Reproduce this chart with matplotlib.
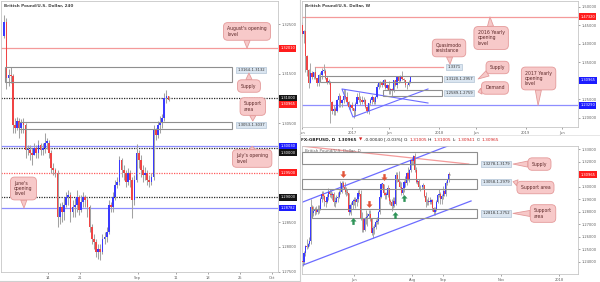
import numpy as np
import matplotlib
matplotlib.use("Agg")
import matplotlib.pyplot as plt
from matplotlib.patches import Rectangle
from matplotlib.path import Path

plt.rcParams['font.family'] = ['DejaVu Sans']

W, H = 600, 282

# ---------------- DATA ----------------
# Panel 1: GBP/USD 4H chart (drawn as 8-hour candles), x = trading-day index, 3 Aug 2017 = 0
h4_first_open = 1.3225
h4_close = [1.3255, 1.3140, 1.3148, 1.3145, 1.3045, 1.3040, 1.3055, 1.3040, 1.3050,
            1.3045, 1.2995, 1.2995, 1.2990, 1.2985, 1.3000, 1.2990, 1.3005, 1.2995,
            1.3000, 1.3010, 1.3010, 1.2990, 1.2960, 1.2955, 1.2950, 1.2860, 1.2880,
            1.2870, 1.2885, 1.2900, 1.2905, 1.2870, 1.2880, 1.2885, 1.2900, 1.2875,
            1.2890, 1.2900, 1.2895, 1.2880, 1.2840, 1.2815, 1.2810, 1.2790, 1.2795,
            1.2790, 1.2815, 1.2820, 1.2830, 1.2885, 1.2880, 1.2900, 1.2925, 1.2930,
            1.2975, 1.2955, 1.2950, 1.2930, 1.2948, 1.2935, 1.2895, 1.2935, 1.2990,
            1.2975, 1.2955, 1.2945, 1.2950, 1.2935, 1.2930, 1.2940, 1.3035, 1.3025,
            1.3045, 1.3050, 1.3060, 1.3100, 1.3105, 1.30965]
h4_high = [1.3268, 1.3262, 1.3160, 1.3163, 1.3150, 1.3060, 1.3062, 1.3060, 1.3058,
           1.3060, 1.3050, 1.3005, 1.3005, 1.3000, 1.3010, 1.3005, 1.3015, 1.3010,
           1.3010, 1.3030, 1.3020, 1.3015, 1.2995, 1.2970, 1.2960, 1.2955, 1.2888,
           1.2890, 1.2900, 1.2910, 1.2915, 1.2910, 1.2895, 1.2898, 1.2915, 1.2905,
           1.2905, 1.2910, 1.2905, 1.2900, 1.2885, 1.2845, 1.2825, 1.2815, 1.2805,
           1.2805, 1.2825, 1.2830, 1.2840, 1.2895, 1.2890, 1.2910, 1.2935, 1.2940,
           1.2983, 1.2980, 1.2965, 1.2955, 1.2960, 1.2955, 1.2940, 1.2945, 1.3008,
           1.2995, 1.2985, 1.2965, 1.2962, 1.2955, 1.2945, 1.2950, 1.3045, 1.3040,
           1.3055, 1.3065, 1.3068, 1.3110, 1.3117, 1.3105]
h4_low = [1.3222, 1.3118, 1.3125, 1.3130, 1.3030, 1.3030, 1.3035, 1.3020, 1.3030,
          1.3030, 1.2980, 1.2985, 1.2975, 1.2965, 1.2985, 1.2980, 1.2980, 1.2985,
          1.2985, 1.2990, 1.2998, 1.2980, 1.2950, 1.2945, 1.2940, 1.2840, 1.2845,
          1.2850, 1.2855, 1.2880, 1.2885, 1.2850, 1.2860, 1.2860, 1.2870, 1.2865,
          1.2870, 1.2880, 1.2880, 1.2860, 1.2830, 1.2805, 1.2795, 1.2780, 1.2775,
          1.2774, 1.2785, 1.2805, 1.2810, 1.2825, 1.2870, 1.2870, 1.2895, 1.2918,
          1.2925, 1.2940, 1.2935, 1.2920, 1.2925, 1.2920, 1.2858, 1.2885, 1.2930,
          1.2960, 1.2940, 1.2930, 1.2935, 1.2925, 1.2920, 1.2925, 1.2935, 1.3015,
          1.3020, 1.3030, 1.3040, 1.3055, 1.3090, 1.3094]
h4_xticks = [7, 12, 21, 27, 32, 37, 42]
h4_xticklabels = ['14', '21', 'Sep', '11', '18', '25', 'Oct']
h4_yticks = [1.275, 1.280, 1.285, 1.305, 1.315, 1.325]
h4_levels = [1.32010, 1.31000, 1.30030, 1.30000, 1.29500, 1.29000, 1.28782]
h4_tags = [1.32010, 1.31000, 1.30965, 1.30030, 1.30000, 1.29500, 1.29000, 1.28782]
h4_supply = (1.3164, 1.3132)
h4_support = (1.3053, 1.3037)

# Panel 2: weekly, x = week index, week of 30 May 2016 = 0
wk_first_open = 1.4435
wk_close = [1.4522, 1.4256, 1.4357, 1.3679, 1.3279, 1.2951, 1.3199, 1.3110, 1.3230, 1.3080,
            1.2935, 1.3150, 1.3160, 1.3270, 1.3270, 1.3070, 1.2975, 1.2975, 1.2435, 1.2190,
            1.2230, 1.2190, 1.2490, 1.2590, 1.2390, 1.2470, 1.2590, 1.2560, 1.2410, 1.2280,
            1.2340, 1.2270, 1.2180, 1.2370, 1.2560, 1.2490, 1.2480, 1.2410, 1.2480, 1.2300,
            1.2170, 1.2400, 1.2470, 1.2550, 1.2410, 1.2550, 1.2820, 1.2945, 1.2960, 1.2880,
            1.3030, 1.2800, 1.2880, 1.2745, 1.2780, 1.2720, 1.3025, 1.2885, 1.3095, 1.2990,
            1.3135, 1.3035, 1.3010, 1.2875, 1.2880, 1.2965, 1.30965]
wk_high = [1.4665, 1.4590, 1.4370, 1.5018, 1.3697, 1.3310, 1.3480, 1.3260, 1.3250, 1.3370,
           1.3080, 1.3185, 1.3240, 1.3340, 1.3445, 1.3320, 1.3140, 1.3060, 1.2980, 1.2460,
           1.2340, 1.2300, 1.2510, 1.2670, 1.2600, 1.2510, 1.2780, 1.2770, 1.2700, 1.2440,
           1.2370, 1.2430, 1.2270, 1.2420, 1.2670, 1.2700, 1.2580, 1.2580, 1.2570, 1.2500,
           1.2320, 1.2400, 1.2520, 1.2610, 1.2570, 1.2590, 1.2905, 1.2965, 1.2990, 1.2990,
           1.3048, 1.3045, 1.2920, 1.2980, 1.2815, 1.2815, 1.3030, 1.3025, 1.3113, 1.3125,
           1.3160, 1.3267, 1.3065, 1.3015, 1.2905, 1.3008, 1.3117]
wk_low = [1.4350, 1.4180, 1.4010, 1.3229, 1.3121, 1.2798, 1.2930, 1.3060, 1.3060, 1.3050,
          1.2870, 1.2865, 1.3060, 1.3055, 1.3200, 1.3060, 1.2915, 1.2915, 1.1841, 1.2085,
          1.2080, 1.2080, 1.2160, 1.2300, 1.2300, 1.2300, 1.2390, 1.2540, 1.2350, 1.2240,
          1.2200, 1.2200, 1.1986, 1.2040, 1.2370, 1.2410, 1.2340, 1.2380, 1.2380, 1.2250,
          1.2130, 1.2110, 1.2330, 1.2380, 1.2360, 1.2370, 1.2520, 1.2775, 1.2840, 1.2840,
          1.2870, 1.2775, 1.2775, 1.2635, 1.2645, 1.2589, 1.2700, 1.2865, 1.2810, 1.2930,
          1.2960, 1.3030, 1.2965, 1.2840, 1.2774, 1.2860, 1.2925]
wk_xticks = [1.15, 31, 53, 83, 105, 135, 157]
wk_xticklabels = ['Jun', '2017', 'Jun', '2018', 'Jun', '2019', 'Jun']
wk_yticks = [1.20, 1.25, 1.35, 1.40, 1.45, 1.50]
wk_levels = [1.47320, 1.23290]
wk_qm = 1.3371
wk_supply = (1.3120, 1.2957)
wk_demand = (1.2759, 1.2589)

# Panel 3: daily, x = trading-day index, 10 Apr 2017 = 0
d_first_open = 1.2410
d_close = [1.2400, 1.2470, 1.2525, 1.2520, 1.2545, 1.2570, 1.2840, 1.2790, 1.2810, 1.2825,
           1.2800, 1.2825, 1.2820, 1.2905, 1.2945, 1.2925, 1.2885, 1.2880, 1.2915, 1.2960,
           1.2945, 1.2935, 1.2945, 1.2880, 1.2880, 1.2910, 1.2920, 1.2955, 1.2960, 1.3030,
           1.3000, 1.2980, 1.2955, 1.2950, 1.2800, 1.2850, 1.2855, 1.2885, 1.2890, 1.2880,
           1.2900, 1.2950, 1.2945, 1.2740, 1.2745, 1.2655, 1.2745, 1.2760, 1.2765, 1.2780,
           1.2745, 1.2630, 1.2670, 1.2675, 1.2720, 1.2725, 1.2800, 1.2920, 1.3025, 1.3025,
           1.2950, 1.2935, 1.2935, 1.2990, 1.2885, 1.2880, 1.2845, 1.2885, 1.2860, 1.3095,
           1.3055, 1.3035, 1.2995, 1.2950, 1.2990, 1.3040, 1.3030, 1.3110, 1.3060, 1.3135,
           1.3210, 1.3205, 1.3245, 1.3135, 1.3035, 1.3045, 1.2995, 1.2995, 1.3000, 1.3010,
           1.2925, 1.2880, 1.2875, 1.2885, 1.2875, 1.2890, 1.2830, 1.2800, 1.2825, 1.2880,
           1.2935, 1.2945, 1.2905, 1.2925, 1.2965, 1.2945, 1.3030, 1.3050, 1.3100, 1.30965]
d_high = [1.2435, 1.2485, 1.2535, 1.2580, 1.2555, 1.2600, 1.2905, 1.2850, 1.2845, 1.2840,
          1.2845, 1.2850, 1.2850, 1.2920, 1.2965, 1.2965, 1.2935, 1.2915, 1.2945, 1.2990,
          1.2985, 1.2970, 1.2960, 1.2960, 1.2915, 1.2930, 1.2960, 1.2975, 1.3048, 1.3045,
          1.3045, 1.3035, 1.2995, 1.2980, 1.2950, 1.2865, 1.2875, 1.2905, 1.2920, 1.2915,
          1.2940, 1.2975, 1.2980, 1.2975, 1.2800, 1.2745, 1.2760, 1.2815, 1.2790, 1.2815,
          1.2815, 1.2750, 1.2690, 1.2705, 1.2740, 1.2755, 1.2810, 1.2950, 1.3030, 1.3030,
          1.3025, 1.2960, 1.2960, 1.3015, 1.2990, 1.2905, 1.2905, 1.2915, 1.2915, 1.3113,
          1.3115, 1.3125, 1.3045, 1.3040, 1.3015, 1.3050, 1.3085, 1.3115, 1.3160, 1.3140,
          1.3215, 1.3240, 1.3255, 1.3267, 1.3160, 1.3065, 1.3060, 1.3010, 1.3010, 1.3030,
          1.3015, 1.2960, 1.2905, 1.2915, 1.2915, 1.2905, 1.2900, 1.2840, 1.2840, 1.2895,
          1.2940, 1.2983, 1.2960, 1.2945, 1.3008, 1.2970, 1.3045, 1.3065, 1.3117, 1.31005]
d_low = [1.2365, 1.2380, 1.2450, 1.2500, 1.2510, 1.2530, 1.2540, 1.2760, 1.2770, 1.2775,
         1.2785, 1.2780, 1.2790, 1.2815, 1.2880, 1.2900, 1.2845, 1.2840, 1.2870, 1.2895,
         1.2920, 1.2910, 1.2890, 1.2845, 1.2840, 1.2870, 1.2875, 1.2910, 1.2940, 1.2950,
         1.2990, 1.2945, 1.2925, 1.2935, 1.2775, 1.2790, 1.2775, 1.2825, 1.2850, 1.2830,
         1.2845, 1.2875, 1.2925, 1.2735, 1.2635, 1.2640, 1.2645, 1.2705, 1.2690, 1.2750,
         1.2725, 1.2615, 1.2589, 1.2625, 1.2660, 1.2700, 1.2700, 1.2780, 1.2910, 1.2990,
         1.2935, 1.2905, 1.2900, 1.2920, 1.2865, 1.2850, 1.2810, 1.2830, 1.2840, 1.2850,
         1.3035, 1.3025, 1.2990, 1.2935, 1.2930, 1.2960, 1.3000, 1.3010, 1.3050, 1.3040,
         1.3115, 1.3170, 1.3175, 1.3115, 1.3030, 1.3020, 1.2985, 1.2965, 1.2980, 1.2985,
         1.2920, 1.2840, 1.2850, 1.2850, 1.2860, 1.2860, 1.2805, 1.2775, 1.2774, 1.2810,
         1.2870, 1.2920, 1.2860, 1.2860, 1.2905, 1.2925, 1.2925, 1.3015, 1.3040, 1.30941]
d_xticks = [38, 81, 104, 147, 190]
d_xticklabels = ['Jun', 'Aug', 'Sep', 'Nov', '2018']
d_yticks = [1.24, 1.25, 1.26, 1.27, 1.28, 1.29, 1.30, 1.32, 1.33]
d_supply = (1.3278, 1.3179)
d_support1 = (1.3058, 1.2979)
d_support2 = (1.2818, 1.2752)
d_sell_x = [29.9, 49.1, 60.2]
d_sell_y = [1.3101, 1.2862, 1.3077]
d_buy_x = [37.3, 68.4, 75.0]
d_buy_y = [1.2726, 1.2774, 1.2910]

# ---------------- STYLE HELPERS ----------------
UP, DN, WICK = '#3a3aff', '#f04444', '#a2a2a2'
SPINE = '#c6c6c6'
TICKC = '#606060'
FS_TICK = 2.65
LRED, LBLUE = '#f49a9a', '#8e8eff'
TAG_RED, TAG_BLK, TAG_BLU = '#ff1c1c', '#141414', '#1c1cff'
PX = 0.72  # points per pixel

fig = plt.figure(figsize=(6.0, 2.82), dpi=100)
fig.patch.set_facecolor('white')


def rect(x0, y0, x1, y1):
    return [x0 / W, 1 - y1 / H, (x1 - x0) / W, (y1 - y0) / H]


def setup(ax, xlim, ylim, xt, xtl, yt):
    ax.set_xlim(*xlim)
    ax.set_ylim(*ylim)
    ax.yaxis.tick_right()
    ax.set_xticks(xt)
    ax.set_xticklabels(xtl)
    ax.set_yticks(yt)
    ax.set_yticklabels([f'{v:.5f}' for v in yt])
    ax.tick_params(axis='both', labelsize=FS_TICK, colors=TICKC, length=1.5, width=0.4, pad=1.2)
    for s in ax.spines.values():
        s.set_color(SPINE)
        s.set_linewidth(0.6)


def candles(ax, x, first_open, close, high, low, width, wlw=0.65):
    x = np.asarray(x, float)
    c = np.asarray(close)
    h = np.asarray(high)
    l = np.asarray(low)
    o = np.concatenate([[first_open], c[:-1]])
    ax.vlines(x, l, h, color=WICK, lw=wlw, zorder=2)
    up = c >= o
    y0, y1 = ax.get_ylim()
    body = np.maximum(np.abs(c - o), (y1 - y0) * 0.005)
    bottom = np.minimum(o, c)
    ax.bar(x[up], body[up], bottom=bottom[up], width=width, color=UP, lw=0, zorder=3)
    ax.bar(x[~up], body[~up], bottom=bottom[~up], width=width, color=DN, lw=0, zorder=3)


def callout(ax, text, box_xy, tip_xy, fs=3.35):
    ax.annotate(text, xy=tip_xy, xytext=box_xy, ha='center', va='center', fontsize=fs,
                color='#5e2a2a', multialignment='left', linespacing=1.05,
                bbox=dict(boxstyle='round,pad=0.8,rounding_size=0.9', fc='#f7c9c9',
                          ec='#e49a9a', lw=0.6),
                arrowprops=dict(arrowstyle='wedge,tail_width=1.3,shrink_factor=0.5',
                                fc='#f7c9c9', ec='#e49a9a', lw=0.6, shrinkA=0, shrinkB=0),
                zorder=8, annotation_clip=False)


def zone_label(ax, x, y, text):
    ax.text(x, y, text, fontsize=2.7, color='#333333', ha='center', va='center', zorder=7,
            bbox=dict(boxstyle='square,pad=0.3', fc='#dae5f0', ec='#a3b8cc', lw=0.4))


def zone(ax, x0, x1, prices):
    hi, lo = max(prices), min(prices)
    ax.add_patch(Rectangle((x0, lo), x1 - x0, hi - lo, fill=False, ec='#8f8f8f', lw=0.8, zorder=4))


def tag(ax, price, color, dy_px=0.0):
    ax.annotate(f'{price:.5f}', xy=(1.0, price), xycoords=ax.get_yaxis_transform(),
                xytext=(1.6, -dy_px * PX), textcoords='offset points', ha='left', va='center',
                fontsize=FS_TICK, color='white',
                bbox=dict(boxstyle='square,pad=0.38', fc=color, ec='none'),
                annotation_clip=False, zorder=10)


def arrow_marker(up):
    v = [(-0.35, -1.0), (0.35, -1.0), (0.35, 0.0), (0.9, 0.0), (0.0, 1.0), (-0.9, 0.0), (-0.35, 0.0), (-0.35, -1.0)]
    if not up:
        v = [(a, -b) for a, b in v]
    return Path(v, closed=True)


# ---------------- PANEL 1: 4H ----------------
ax1 = fig.add_axes(rect(0.5, 0.5, 278, 272))
setup(ax1, (-0.42, 42.94), (1.2749, 1.32975), h4_xticks, h4_xticklabels, h4_yticks)
x4 = np.arange(len(h4_close)) / 3.0 + 1.0 / 6.0
candles(ax1, x4, h4_first_open, h4_close, h4_high, h4_low, 0.27, wlw=0.75)

lvl_style = [(LRED, '-'), ('#2a2a2a', (0, (1, 1))), (LBLUE, '-'), ('#2a2a2a', (0, (1, 1))),
             ('#ff5a5a', (0, (1, 1))), ('#2a2a2a', (0, (1, 1))), (LBLUE, '-')]
for p, (c, ls) in zip(h4_levels, lvl_style):
    ax1.axhline(p, color=c, ls=ls, lw=0.9, zorder=1.5)

zone(ax1, 0.28, 35.75, h4_supply)
zone(ax1, 2.47, 35.75, h4_support)
zone_label(ax1, 38.7, 1.3157, '1.3164-1.3132')
zone_label(ax1, 38.7, 1.3046, '1.3053-1.3037')

callout(ax1, "August's opening\nlevel", (38.1, 1.3235), (38.1, 1.3201))
callout(ax1, 'Supply', (38.4, 1.31247), (38.4, 1.3151))
callout(ax1, 'Support\narea', (39.0, 1.30833), (39.0, 1.3054))
callout(ax1, "July's opening\nlevel", (38.9, 1.29783), (38.9, 1.3003))
callout(ax1, "June's\nopening\nlevel", (3.17, 1.29177), (3.25, 1.28782))

tag_cols = [TAG_RED, TAG_BLK, TAG_RED, TAG_BLU, TAG_BLK, TAG_RED, TAG_BLK, TAG_BLU]
tag_dy = [0, 0, 4.5, 0, 4.8, 0, 0, 0]
for p, c, dy in zip(h4_tags, tag_cols, tag_dy):
    tag(ax1, p, c, dy)
ax1.text(0.012, 0.986, 'British Pound/U.S. Dollar, 240', transform=ax1.transAxes,
         fontsize=3.0, color='#444444', fontweight='bold', ha='left', va='top')

# ---------------- PANEL 2: weekly ----------------
ax2 = fig.add_axes(rect(302, 0.5, 578, 127))
setup(ax2, (1.08, 166.3), (1.1745, 1.5176), wk_xticks, wk_xticklabels, wk_yticks)
candles(ax2, np.arange(len(wk_close)), wk_first_open, wk_close, wk_high, wk_low, 0.8)
ax2.axhline(wk_levels[0], color=LRED, lw=0.9, zorder=1.5)
ax2.axhline(wk_levels[1], color=LBLUE, lw=0.9, zorder=1.5)
ax2.plot([8.9, 85.5], [wk_qm, wk_qm], color=LRED, lw=0.9, zorder=1.5)
zone(ax2, 11.9, 84.9, wk_supply)
zone(ax2, 49.6, 84.9, wk_demand)
tri_x = [76.5, 25.0, 31.6, 76.5]
tri_y = [1.2396, 1.2776, 1.2017, 1.2776]
ax2.plot(tri_x, tri_y, color='#6c6cff', lw=0.8, zorder=2.5)
zone_label(ax2, 92.1, wk_qm, '1.3371')
zone_label(ax2, 95.0, 1.3040, '1.3120-1.2957')
zone_label(ax2, 95.0, 1.2670, '1.2589-1.2759')
callout(ax2, 'Quasimodo\nresistance', (89.1, 1.3888), (89.7, 1.3450))
callout(ax2, 'Supply', (118.1, 1.3359), (106.5, 1.3047))
callout(ax2, 'Demand', (116.6, 1.2803), (106.5, 1.2695))
callout(ax2, '2016 Yearly\nopening\nlevel', (114.3, 1.4159), (113.6, 1.4732))
callout(ax2, '2017 Yearly\nopening\nlevel', (142.7, 1.3061), (142.4, 1.2329))
tag(ax2, 1.47320, TAG_RED)
tag(ax2, 1.30965, TAG_BLU, 3)
tag(ax2, 1.23290, TAG_BLU)
ax2.text(0.012, 0.975, 'British Pound/U.S. Dollar, W', transform=ax2.transAxes,
         fontsize=3.0, color='#444444', fontweight='bold', ha='left', va='top')

# ---------------- PANEL 3: daily ----------------
ax3 = fig.add_axes(rect(302, 146, 578, 274))
setup(ax3, (-0.5, 203.9), (1.2304, 1.3324), d_xticks, d_xticklabels, d_yticks)
candles(ax3, np.arange(len(d_close)), d_first_open, d_close, d_high, d_low, 0.85)
ax3.plot([-1.3, 123.0], [1.3324, 1.3180], color=LRED, lw=0.9, zorder=1.5)
ax3.plot([-1.3, 117.0], [1.2872, 1.3364], color='#6c6cff', lw=0.9, zorder=2.5)
ax3.plot([-1.3, 124.7], [1.2369, 1.2886], color='#6c6cff', lw=0.9, zorder=2.5)
zone(ax3, -0.5, 129.1, d_supply)
zone(ax3, -0.5, 129.1, d_support1)
zone(ax3, 6.9, 129.1, d_support2)
zone_label(ax3, 143.2, 1.3183, '1.3278-1.3179')
zone_label(ax3, 143.2, 1.3040, '1.3058-1.2979')
zone_label(ax3, 143.2, 1.2787, '1.2818-1.2752')
callout(ax3, 'Supply', (175.4, 1.3180), (155.8, 1.3180))
callout(ax3, 'Support area', (172.4, 1.2993), (155.8, 1.3040))
callout(ax3, 'Support\narea', (178.0, 1.2786), (155.8, 1.2787))
ax3.scatter(d_sell_x, d_sell_y, marker=arrow_marker(False), s=24, color='#e2553a', lw=0, zorder=6)
ax3.scatter(d_buy_x, d_buy_y, marker=arrow_marker(True), s=24, color='#2f9458', lw=0, zorder=6)
tag(ax3, 1.30965, TAG_RED)
ax3.text(0.012, 0.975, 'British Pound/U.S. Dollar, D', transform=ax3.transAxes,
         fontsize=3.0, color='#6a6a6a', ha='left', va='top', zorder=9)

# ---------------- frames & header ----------------
ov = fig.add_axes([0, 0, 1, 1], zorder=20)
ov.set_xlim(0, W)
ov.set_ylim(H, 0)
ov.axis('off')
ov.patch.set_alpha(0)
ov.plot([300, 300], [0, H], color='#cfcfcf', lw=0.8)
ov.plot([0, 300], [281, 281], color='#cfcfcf', lw=0.8)
ov.plot([300, 600], [134.5, 134.5], color='#e2e2e2', lw=0.6)

fig.canvas.draw()
rend = fig.canvas.get_renderer()
pieces = [('FX:GBPUSD, D', '#222222', 'bold', 2.5), ('1.30965', '#222222', 'bold', 1.5),
          ('\u25bc', '#d42020', 'normal', 1.5), ('-0.00040 [-0.03%]', '#222222', 'normal', 1.5),
          ('O:', '#222222', 'normal', 1.0), ('1.31005', '#d42020', 'normal', 1.5),
          ('H:', '#222222', 'normal', 1.0), ('1.31005', '#d42020', 'normal', 1.5),
          ('L:', '#222222', 'normal', 1.0), ('1.30941', '#d42020', 'normal', 1.5),
          ('C:', '#222222', 'normal', 1.0), ('1.30965', '#d42020', 'normal', 0)]
xp = 301.0
for txt, col, wt, gap in pieces:
    t = fig.text(xp / W, 1 - 139.5 / H, txt, fontsize=3.05, color=col, fontweight=wt,
                 ha='left', va='center')
    bb = t.get_window_extent(renderer=rend)
    xp += bb.width + gap

fig.savefig('out.png', dpi=100, facecolor='white')
